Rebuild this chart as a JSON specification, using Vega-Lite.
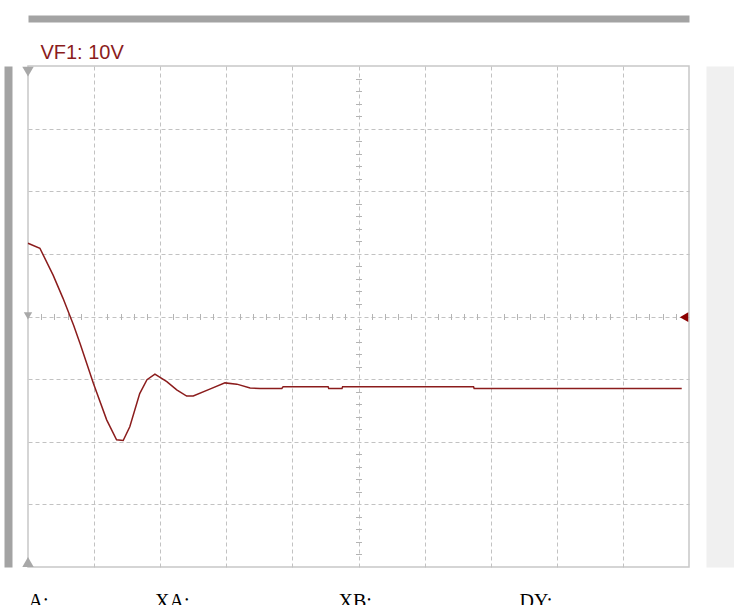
{
  "$schema": "https://vega.github.io/schema/vega-lite/v6.json",
  "autosize": "none",
  "width": 661,
  "height": 501,
  "padding": {"left": 28, "top": 66, "right": 45, "bottom": 38},
  "background": "white",
  "datasets": {
    "trace": [
      {"t": 0, "v": 11.7},
      {"t": 0.18, "v": 10.9},
      {"t": 0.38, "v": 6.6},
      {"t": 0.53, "v": 2.9},
      {"t": 0.69, "v": -1.4},
      {"t": 0.79, "v": -4.4},
      {"t": 0.99, "v": -10.7},
      {"t": 1.19, "v": -16.5},
      {"t": 1.34, "v": -19.7},
      {"t": 1.44, "v": -19.8},
      {"t": 1.54, "v": -17.6},
      {"t": 1.69, "v": -12.3},
      {"t": 1.8, "v": -10.1},
      {"t": 1.92, "v": -9.2},
      {"t": 2.1, "v": -10.4},
      {"t": 2.25, "v": -11.7},
      {"t": 2.4, "v": -12.7},
      {"t": 2.5, "v": -12.7},
      {"t": 2.75, "v": -11.6},
      {"t": 2.98, "v": -10.6},
      {"t": 3.16, "v": -10.8},
      {"t": 3.36, "v": -11.4},
      {"t": 3.51, "v": -11.5},
      {"t": 3.84, "v": -11.5},
      {"t": 3.86, "v": -11.2},
      {"t": 4.54, "v": -11.2},
      {"t": 4.55, "v": -11.5},
      {"t": 4.75, "v": -11.5},
      {"t": 4.76, "v": -11.2},
      {"t": 6.74, "v": -11.2},
      {"t": 6.75, "v": -11.5},
      {"t": 9.89, "v": -11.5}
    ],
    "cursors": [
      {"t": 0, "v": 39.1, "kind": "top"},
      {"t": 0, "v": -39.2, "kind": "bottom"}
    ],
    "channel": [
      {"t": 0, "v": 0.1}
    ],
    "ground": [
      {"t": 9.925, "v": -0.1}
    ]
  },
  "resolve": {"axis": {"x": "independent", "y": "independent"}},
  "layer": [
    {
      "data": {"name": "trace"},
      "mark": {"type": "line", "color": "#8b1c1c", "strokeWidth": 1.5, "interpolate": "linear"},
      "encoding": {
        "x": {
          "field": "t", "type": "quantitative",
          "scale": {"domain": [0, 10], "nice": false, "zero": false},
          "axis": {
            "orient": "bottom", "title": null, "values": [1, 2, 3, 4, 5, 6, 7, 8, 9],
            "grid": true, "gridColor": "#c2c2c2", "gridDash": [4, 3], "gridWidth": 1,
            "domain": false, "ticks": false, "labels": false
          }
        },
        "y": {
          "field": "v", "type": "quantitative",
          "scale": {"domain": [-40, 40], "nice": false, "zero": false},
          "axis": {
            "orient": "left", "title": null, "values": [-30, -20, -10, 0, 10, 20, 30],
            "grid": true, "gridColor": "#c2c2c2", "gridDash": [4, 3], "gridWidth": 1,
            "domain": false, "ticks": false, "labels": false
          }
        }
      }
    },
    {
      "data": {"name": "cursors"},
      "mark": {"type": "point", "filled": true, "color": "#a8a8a8", "size": 130, "opacity": 1},
      "encoding": {
        "x": {
          "field": "t", "type": "quantitative",
          "axis": {
            "orient": "bottom", "offset": -253.5, "title": null,
            "values": [0.2, 0.4, 0.6, 0.8, 1.2, 1.4, 1.6, 1.8, 2.2, 2.4, 2.6, 2.8, 3.2, 3.4, 3.6, 3.8, 4.2, 4.4, 4.6, 4.8, 5.2, 5.4, 5.6, 5.8, 6.2, 6.4, 6.6, 6.8, 7.2, 7.4, 7.6, 7.8, 8.2, 8.4, 8.6, 8.8, 9.2, 9.4, 9.6, 9.8],
            "grid": false, "domain": false, "labels": false,
            "ticks": true, "tickSize": 6, "tickColor": "#b4b4b4", "tickWidth": 1
          }
        },
        "y": {
          "field": "v", "type": "quantitative",
          "axis": {
            "orient": "left", "offset": -333.5, "title": null,
            "values": [-38, -36, -34, -32, -28, -26, -24, -22, -18, -16, -14, -12, -8, -6, -4, -2, 2, 4, 6, 8, 12, 14, 16, 18, 22, 24, 26, 28, 32, 34, 36, 38],
            "grid": false, "domain": false, "labels": false,
            "ticks": true, "tickSize": 6, "tickColor": "#b4b4b4", "tickWidth": 1
          }
        },
        "shape": {
          "field": "kind", "type": "nominal",
          "scale": {"domain": ["top", "bottom"], "range": ["triangle-down", "triangle-up"]},
          "legend": null
        }
      }
    },
    {
      "data": {"name": "ground"},
      "mark": {"type": "point", "filled": true, "shape": "triangle-left", "color": "#8b0000", "size": 95, "opacity": 1},
      "encoding": {
        "x": {
          "field": "t", "type": "quantitative",
          "axis": {
            "orient": "bottom", "offset": 24, "title": null,
            "values": [0, 1.914, 4.69, 7.43],
            "labelExpr": "datum.value == 0 ? 'A:' : datum.value < 3 ? 'XA:' : datum.value < 6 ? 'XB:' : 'DY:'",
            "labelAlign": "left", "labelBaseline": "top", "labelPadding": 0,
            "labelFont": "Liberation Serif", "labelFontSize": 20, "labelColor": "#000000",
            "labelOverlap": false, "labelFlush": false, "labelBound": false,
            "grid": false, "domain": false, "ticks": false, "tickSize": 0
          }
        },
        "y": {
          "field": "v", "type": "quantitative",
          "axis": {
            "orient": "left", "offset": 20, "title": null,
            "grid": false, "labels": false, "ticks": false,
            "domain": true, "domainColor": "#a3a3a3", "domainWidth": 8
          }
        }
      }
    },
    {
      "data": {"name": "channel"},
      "mark": {"type": "point", "filled": true, "shape": "triangle-down", "color": "#a8a8a8", "size": 70, "opacity": 1},
      "encoding": {
        "x": {
          "field": "t", "type": "quantitative",
          "axis": {
            "orient": "top", "offset": 47.5, "title": null,
            "values": [0.18],
            "labelExpr": "'VF1: 10V'",
            "labelAlign": "left", "labelBaseline": "alphabetic", "labelPadding": -40,
            "labelFont": "Liberation Sans", "labelFontSize": 20, "labelColor": "#8b1c1c",
            "labelOverlap": false, "labelFlush": false, "labelBound": false,
            "grid": false, "ticks": false, "tickSize": 0,
            "domain": true, "domainColor": "#a3a3a3", "domainWidth": 7
          }
        },
        "y": {
          "field": "v", "type": "quantitative",
          "axis": {
            "orient": "right", "offset": 31, "title": null,
            "grid": false, "labels": false, "ticks": false,
            "domain": true, "domainColor": "#f0f0f0", "domainWidth": 28
          }
        }
      }
    }
  ],
  "config": {
    "view": {"stroke": "#c8c8c8", "strokeWidth": 1.5, "fill": "white"}
  }
}
